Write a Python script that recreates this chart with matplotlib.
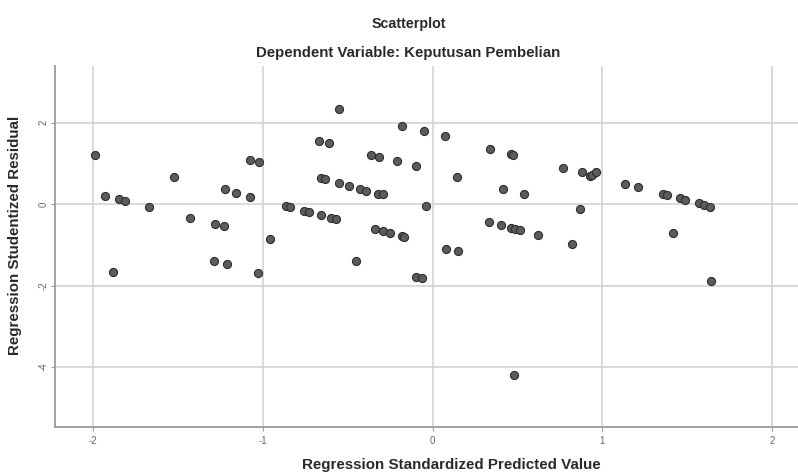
import matplotlib.pyplot as plt
import numpy as np

plt.rcParams['font.family'] = ['Liberation Sans', 'DejaVu Sans']
plt.rcParams['axes.unicode_minus'] = False

# Regression Standardized Predicted Value
pred = [-1.99, -1.93, -1.85, -1.81, -1.88, -1.67, -1.525, -1.43, -1.28, -1.23,
        -1.29, -1.21, -1.22, -1.16, -1.075, -1.075, -1.02, -1.03, -0.96,
        -0.55, -0.67, -0.61, -0.657, -0.635, -0.55, -0.49, -0.43, -0.39,
        -0.32, -0.29, -0.365, -0.316, -0.21, -0.18, -0.10, -0.05, 0.076,
        0.145, -0.04, -0.865, -0.84, -0.757, -0.73, -0.657, -0.60, -0.57,
        -0.34, -0.29, -0.25, -0.18, -0.17, -0.45, -0.10, -0.06, 0.08, 0.15,
        0.34, 0.465, 0.475, 0.416, 0.54, 0.33, 0.404, 0.463, 0.488, 0.518,
        0.62, 0.77, 0.88, 0.926, 0.94, 0.96, 0.87, 0.82, 1.135, 1.21,
        1.357, 1.38, 1.455, 1.49, 1.57, 1.60, 1.635, 1.415, 1.64, 0.478]

# Regression Studentized Residual
resid = [1.195, 0.20, 0.12, 0.07, -1.67, -0.07, 0.67, -0.34, -0.49, -0.55,
         -1.41, -1.48, 0.36, 0.28, 0.18, 1.08, 1.04, -1.69, -0.85,
         2.33, 1.54, 1.50, 0.63, 0.61, 0.52, 0.45, 0.38, 0.33,
         0.25, 0.24, 1.21, 1.15, 1.07, 1.93, 0.93, 1.79, 1.67,
         0.67, -0.04, -0.04, -0.07, -0.17, -0.19, -0.27, -0.33, -0.37,
         -0.61, -0.67, -0.71, -0.79, -0.81, -1.41, -1.80, -1.82, -1.10, -1.15,
         1.36, 1.24, 1.21, 0.37, 0.24, -0.45, -0.51, -0.59, -0.61, -0.64,
         -0.77, 0.89, 0.80, 0.69, 0.72, 0.80, -0.12, -0.97, 0.50, 0.41,
         0.24, 0.22, 0.15, 0.10, 0.02, -0.02, -0.06, -0.72, -1.89, -4.21]

xticks = [-2, -1, 0, 1, 2]
yticks = [-4, -2, 0, 2]

fig = plt.figure(figsize=(7.98, 4.73), dpi=100)
ax = fig.add_axes([0.069, 0.097, 0.931, 0.764])

ax.scatter(pred, resid, s=34, facecolor='#5c5c5c', edgecolor='#2e2e2e',
           linewidth=0.8, zorder=3)

ax.set_xlim(-2.224, 2.153)
ax.set_ylim(-5.48, 3.40)
ax.set_xticks(xticks)
ax.set_yticks(yticks)
ax.grid(True, color='#d3d3d3', linewidth=1.2, zorder=0)
ax.set_axisbelow(True)

for side in ['top', 'right']:
    ax.spines[side].set_visible(False)
for side in ['left', 'bottom']:
    ax.spines[side].set_color('#9a9a9a')
    ax.spines[side].set_linewidth(1.3)

ax.tick_params(axis='both', colors='#9a9a9a', labelcolor='#666666',
               labelsize=7, length=3, width=0.8)
ax.tick_params(axis='y', pad=1.5)
for lab in ax.get_yticklabels():
    lab.set_rotation(90)
    lab.set_va('center')

ax.set_xlabel('Regression Standardized Predicted Value', fontsize=10.9,
              fontweight='bold', color='#2a2a2a', va='center')
ax.xaxis.set_label_coords(0.534, -0.105)
ax.set_ylabel('Regression Studentized Residual', fontsize=10.9,
              fontweight='bold', color='#2a2a2a', va='center')
ax.yaxis.set_label_coords(-0.054, 0.53)

fig.text(0.512, 0.949, 'Scatterplot', ha='center', va='center',
         fontsize=10.3, fontweight='bold', color='#2a2a2a')
fig.text(0.511, 0.889, 'Dependent Variable: Keputusan Pembelian', ha='center',
         va='center', fontsize=10.8, fontweight='bold', color='#2a2a2a')

fig.savefig('out.png', dpi=100)
